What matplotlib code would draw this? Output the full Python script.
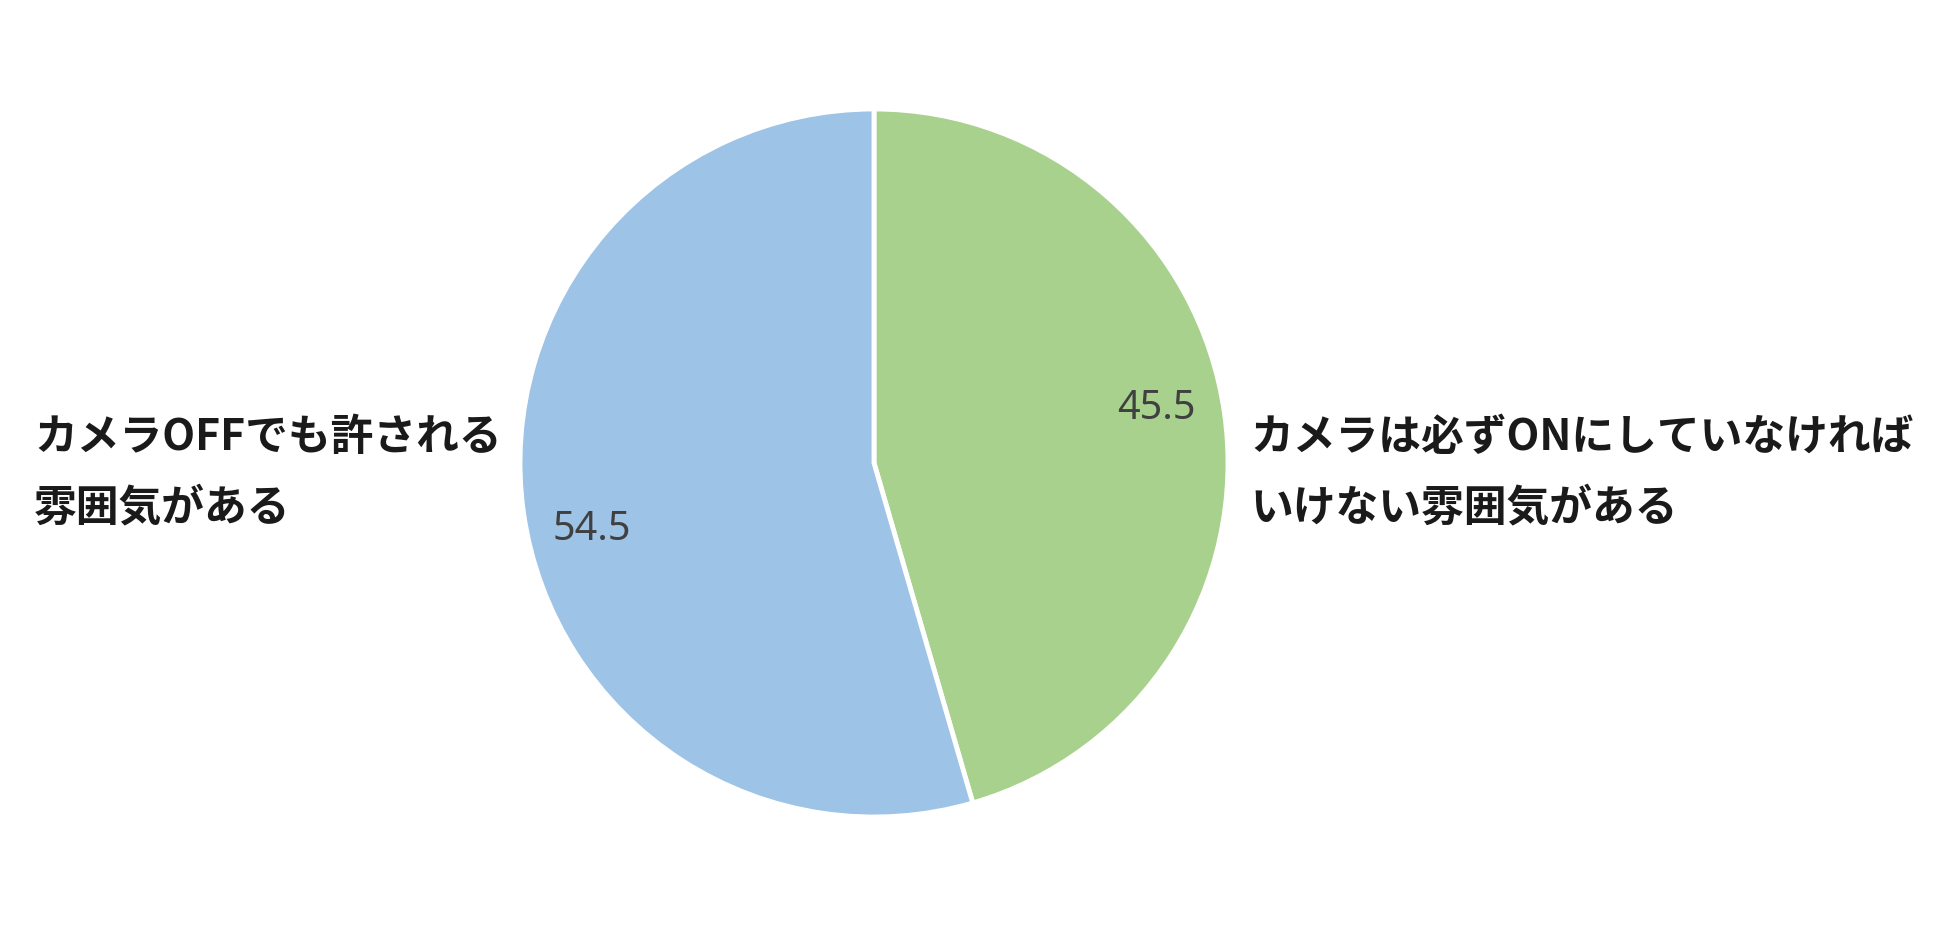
import matplotlib.pyplot as plt
import numpy as np

plt.rcParams['font.family'] = ['Noto Sans CJK JP', 'DejaVu Sans']

# data
labels = ["カメラは必ずONにしていなければ\nいけない雰囲気がある",
          "カメラOFFでも許される\n雰囲気がある"]
values = [45.5, 54.5]
colors = ["#A9D18E", "#9DC3E6"]

fig = plt.figure(figsize=(19.5, 9.26), dpi=100)
ax = fig.add_axes([520 / 1950, 109 / 926, 708 / 1950, 708 / 926])

wedges, _ = ax.pie(values, colors=colors, startangle=90, counterclock=False,
                   radius=1.0, wedgeprops=dict(edgecolor="white", linewidth=3.5))
ax.set_xlim(-1, 1)
ax.set_ylim(-1, 1)

# value labels inside the wedges
for w, v in zip(wedges, values):
    ang = np.deg2rad((w.theta1 + w.theta2) / 2 + 4)
    r = 0.815
    ax.text(r * np.cos(ang), r * np.sin(ang) - 0.018, f"{v:.1f}", ha="center", va="center",
            fontsize=28.5, color="#404040", family=["Noto Sans", "DejaVu Sans"])

# category labels outside the pie
right_lines = labels[0].split("\n")
left_lines = labels[1].split("\n")
for i, line in enumerate(left_lines):
    fig.text(34 / 1950, 1 - (437 + 70 * i) / 926, line, ha="left", va="center",
             fontsize=30.8, fontweight="bold", color="#1a1a1a")
for i, line in enumerate(right_lines):
    fig.text(1250 / 1950, 1 - (437 + 70 * i) / 926, line, ha="left", va="center",
             fontsize=30.8, fontweight="bold", color="#1a1a1a")

fig.savefig("out.png", dpi=100, facecolor="white")
